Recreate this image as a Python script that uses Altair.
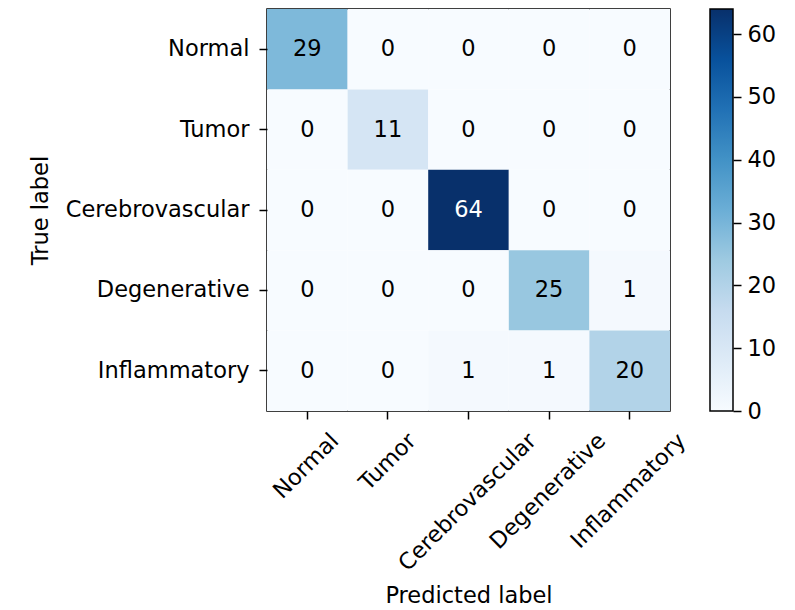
import altair as alt
import pandas as pd

# Class names (rows = true label, columns = predicted label)
classes = ["Normal", "Tumor", "Cerebrovascular", "Degenerative", "Inflammatory"]

# Confusion-matrix counts, one list per true class
true_normal = [29, 0, 0, 0, 0]
true_tumor = [0, 11, 0, 0, 0]
true_cerebrovascular = [0, 0, 64, 0, 0]
true_degenerative = [0, 0, 0, 25, 1]
true_inflammatory = [0, 0, 1, 1, 20]

rows = [true_normal, true_tumor, true_cerebrovascular, true_degenerative, true_inflammatory]

# Colorbar tick values
cbar_ticks = [0, 10, 20, 30, 40, 50, 60]

records = []
for t, row in zip(classes, rows):
    for p, v in zip(classes, row):
        records.append({"true": t, "pred": p, "count": v})
df = pd.DataFrame(records)

vmax = int(df["count"].max())
thresh = vmax / 2.0

FONT = "DejaVu Sans"
FS = 22.5
W, H = 403, 402
CB_W = 23

# matplotlib "Blues" colormap stops
blues = ["#f7fbff", "#deebf7", "#c6dbef", "#9ecae1", "#6baed6",
         "#4292c6", "#2171b5", "#08519c", "#08306b"]
blue_domain = [vmax * i / (len(blues) - 1) for i in range(len(blues))]

# DejaVu Sans advance widths (em) for the rotated tick labels
ADV = {"N": .748, "o": .612, "r": .411, "m": .974, "a": .613, "l": .278,
       "T": .611, "u": .634, "C": .698, "e": .615, "b": .635, "v": .592,
       "s": .521, "c": .550, "D": .770, "g": .635, "n": .634, "t": .392,
       "i": .278, "I": .295, "f": .352, "y": .592}


def text_width(s):
    return sum(ADV.get(ch, 0.6) for ch in s) * FS


# shift each 45-degree label so its bounding box is centred under the tick
expr = ""
for c in classes:
    off = 0.354 * (text_width(c) - 1.15 * FS)
    expr += f"datum.value === '{c}' ? {off:.1f} : "
expr += "0"

axis_common = dict(
    labelFont=FONT, labelFontSize=FS, labelColor="black", labelLimit=0,
    titleFont=FONT, titleFontSize=FS, titleFontWeight="normal", titleColor="black",
    tickColor="black", tickWidth=1.5, tickSize=8, domain=False, grid=False,
)

x_enc = alt.X(
    "pred:N", sort=classes, title="Predicted label",
    scale=alt.Scale(paddingInner=0, paddingOuter=0),
    axis=alt.Axis(labelAngle=-45, labelAlign="right", labelBaseline="top",
                  labelPadding=10, labelOffset=alt.ExprRef(expr),
                  titlePadding=10, **axis_common),
)
y_enc = alt.Y(
    "true:N", sort=classes, title="True label",
    scale=alt.Scale(paddingInner=0, paddingOuter=0),
    axis=alt.Axis(labelPadding=10, titlePadding=15, **axis_common),
)

cells = alt.Chart(df).mark_rect().encode(
    x=x_enc, y=y_enc,
    color=alt.Color("count:Q", legend=None,
                    scale=alt.Scale(domain=blue_domain, range=blues, interpolate="rgb")),
)

labels = alt.Chart(df).mark_text(font=FONT, fontSize=FS).encode(
    x=alt.X("pred:N", sort=classes),
    y=alt.Y("true:N", sort=classes),
    text="count:Q",
    color=alt.condition(f"datum.count > {thresh}", alt.value("white"), alt.value("black")),
)

matrix = alt.layer(cells, labels).properties(
    width=W, height=H,
    view=alt.ViewBackground(stroke="black", strokeWidth=1.5),
)

# colorbar: one rect filled with the same colormap gradient
cb_df = pd.DataFrame({"lo": [0], "hi": [vmax]})
gradient = alt.LinearGradient(
    gradient="linear", x1=0, y1=1, x2=0, y2=0,
    stops=[alt.GradientStop(offset=i / (len(blues) - 1), color=c) for i, c in enumerate(blues)],
)
colorbar = alt.Chart(cb_df).mark_rect(fill=gradient, stroke="black", strokeWidth=1.5).encode(
    x=alt.value(0), x2=alt.value(CB_W),
    y=alt.Y("lo:Q", scale=alt.Scale(domain=[0, vmax], nice=False, zero=True),
            axis=alt.Axis(orient="right", values=cbar_ticks, title=None, labelPadding=6,
                          **{k: v for k, v in axis_common.items() if not k.startswith("title")})),
    y2="hi:Q",
).properties(width=CB_W, height=H, view=alt.ViewBackground(stroke=None))

chart = alt.hconcat(matrix, colorbar, spacing=40, bounds="flush").properties(
    padding={"left": 28, "top": 8, "right": 5, "bottom": 2},
    background="white",
)

chart.save("out.html", embed_options={"renderer": "svg", "actions": False})
